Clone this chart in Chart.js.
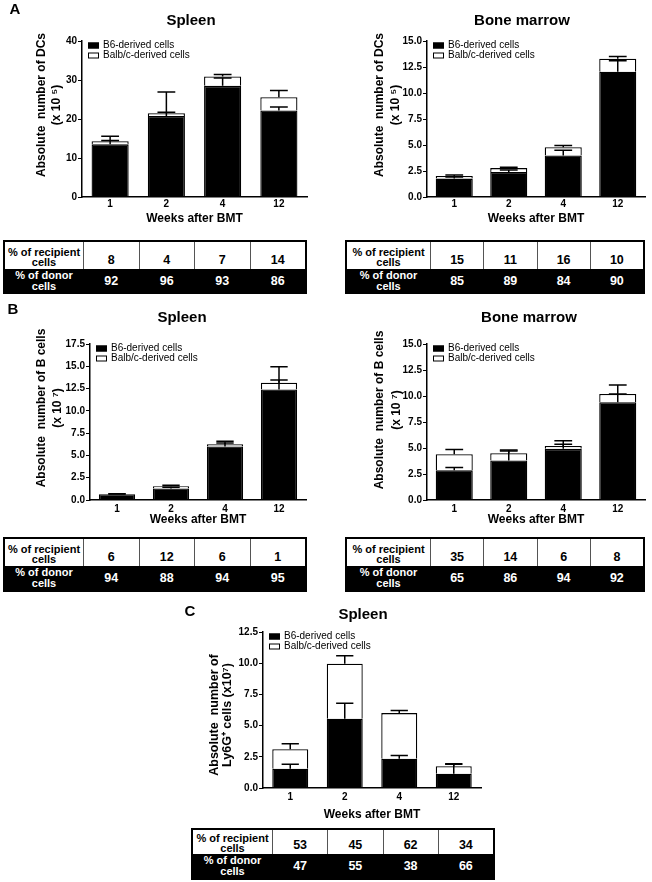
<!DOCTYPE html>
<html>
<head>
<meta charset="utf-8">
<script src="https://cdn.jsdelivr.net/npm/chart.js@4.4.1/dist/chart.umd.min.js"></script>
<style>
  body { margin: 0; background: #fff; }
  #page { position: relative; width: 652px; height: 882px; overflow: hidden; }
  canvas { position: absolute; }
  table.pct {
    position: absolute; border-spacing: 0; table-layout: fixed;
    border: 2px solid #000; font-family: "Liberation Sans", Arial, sans-serif;
    font-weight: bold; color: #000;
  }
  table.pct td { padding: 0; text-align: center; border-left: 1px solid #555; }
  table.pct td:first-child { border-left: none; font-size: 11px; line-height: 10px; vertical-align: middle; }
  table.pct tr.rec td { background: #fff; vertical-align: bottom; padding-bottom: 2px; font-size: 12.5px; }
  table.pct tr.rec td:first-child { padding-bottom: 0; vertical-align: middle; padding-top: 2px; font-size: 11px; }
  table.pct tr.don td { background: #000; color: #fff; border-left-color: #000; vertical-align: middle; font-size: 12.5px; }
  table.pct tr.don td:first-child { line-height: 11px; font-size: 11px; }
</style>
</head>
<body>
<div id="page">
  <canvas id="dcSpleen"></canvas>
  <canvas id="dcMarrow"></canvas>
  <canvas id="bSpleen"></canvas>
  <canvas id="bMarrow"></canvas>
  <canvas id="ly6gSpleen"></canvas>
</div>
<script>
// weeks after BMT
const weeks = ['1', '2', '4', '12'];

// A - DCs, spleen (x10^5)
const dcSpleenB6 = [13.5, 20.8, 28.5, 22.2];
const dcSpleenBalb = [0.8, 0.7, 2.4, 3.4];
const dcSpleenB6Err = [1.0, 0.9, 2.0, 0.9];
const dcSpleenTotalErr = [1.3, 5.4, 0.5, 1.7];
const dcSpleenTicks = [0, 10, 20, 30, 40];

// A - DCs, bone marrow (x10^5)
const dcMarrowB6 = [1.77, 2.4, 4.0, 12.05];
const dcMarrowBalb = [0.26, 0.38, 0.78, 1.25];
const dcMarrowB6Err = [0.15, 0.2, 0.5, 1.05];
const dcMarrowTotalErr = [0.08, 0.07, 0.17, 0.2];
const dcMarrowTicks = [0, 2.5, 5, 7.5, 10, 12.5, 15];

// B - B cells, spleen (x10^7)
const bSpleenB6 = [0.65, 1.3, 6.0, 12.4];
const bSpleenBalb = [0.03, 0.25, 0.25, 0.75];
const bSpleenB6Err = [0.03, 0.12, 0.4, 1.05];
const bSpleenTotalErr = [0.03, 0.1, 0.35, 1.8];
const bSpleenTicks = [0, 2.5, 5, 7.5, 10, 12.5, 15, 17.5];

// B - B cells, bone marrow (x10^7)
const bMarrowB6 = [2.85, 3.8, 4.92, 9.4];
const bMarrowBalb = [1.55, 0.7, 0.28, 0.8];
const bMarrowB6Err = [0.28, 0.9, 0.45, 0.8];
const bMarrowTotalErr = [0.45, 0.3, 0.5, 0.85];
const bMarrowTicks = [0, 2.5, 5, 7.5, 10, 12.5, 15];

// C - Ly6G+ cells, spleen (x10^7)
const lySpleenB6 = [1.55, 5.55, 2.35, 1.15];
const lySpleenBalb = [1.55, 4.4, 3.65, 0.6];
const lySpleenB6Err = [0.35, 1.25, 0.25, 0.75];
const lySpleenTotalErr = [0.45, 0.65, 0.2, 0.2];
const lySpleenTicks = [0, 2.5, 5, 7.5, 10, 12.5];

// tables: % of recipient / donor cells
const dcSpleenRecipient = [8, 4, 7, 14];
const dcSpleenDonor = [92, 96, 93, 86];
const dcMarrowRecipient = [15, 11, 16, 10];
const dcMarrowDonor = [85, 89, 84, 90];
const bSpleenRecipient = [6, 12, 6, 1];
const bSpleenDonor = [94, 88, 94, 95];
const bMarrowRecipient = [35, 14, 6, 8];
const bMarrowDonor = [65, 86, 94, 92];
const lySpleenRecipient = [53, 45, 62, 34];
const lySpleenDonor = [47, 55, 38, 66];

const FONT = '"Liberation Sans", Arial, sans-serif';
Chart.defaults.font.family = FONT;
Chart.defaults.color = '#000';

const errorBars = {
  id: 'errorBars',
  afterDatasetsDraw(chart) {
    const { ctx } = chart;
    const y = chart.scales.y;
    ctx.save();
    ctx.strokeStyle = '#000';
    ctx.lineWidth = 1.5;
    chart.data.datasets.forEach((ds, di) => {
      const meta = chart.getDatasetMeta(di);
      meta.data.forEach((bar, i) => {
        let top = 0;
        for (let k = 0; k <= di; k++) top += chart.data.datasets[k].data[i];
        const y0 = y.getPixelForValue(top);
        const y1 = y.getPixelForValue(top + ds.errors[i]);
        const half = bar.width * 0.24;
        ctx.beginPath();
        ctx.moveTo(bar.x, y0);
        ctx.lineTo(bar.x, y1);
        ctx.moveTo(bar.x - half, y1);
        ctx.lineTo(bar.x + half, y1);
        ctx.stroke();
      });
    });
    ctx.restore();
  }
};

const insideLegend = {
  id: 'insideLegend',
  afterDraw(chart) {
    const { ctx, chartArea } = chart;
    ctx.save();
    ctx.font = '10px ' + FONT;
    ctx.textAlign = 'left';
    ctx.textBaseline = 'middle';
    chart.data.datasets.forEach((ds, i) => {
      const x = chartArea.left + 6, yy = chartArea.top + 1.5 + i * 10;
      ctx.fillStyle = ds.backgroundColor;
      ctx.fillRect(x, yy, 11, 6);
      ctx.strokeStyle = '#000';
      ctx.lineWidth = 1;
      ctx.strokeRect(x + 0.5, yy + 0.5, 10, 5);
      ctx.fillStyle = '#000';
      ctx.fillText(ds.label, x + 15, yy + 3);
    });
    ctx.restore();
  }
};

const panelText = {
  id: 'panelText',
  afterDraw(chart, args, o) {
    const { ctx } = chart;
    ctx.save();
    ctx.fillStyle = '#000';
    ctx.textAlign = 'center';
    ctx.textBaseline = 'middle';
    if (o.letter) {
      ctx.font = 'bold 15px ' + FONT;
      ctx.fillText(o.letter, o.letterX, o.letterY);
    }
    ctx.font = 'bold 15px ' + FONT;
    ctx.fillText(o.title, o.titleX, o.titleY);
    ctx.font = 'bold ' + o.ySize + 'px ' + FONT;
    o.yLines.forEach((t, k) => {
      ctx.save();
      ctx.translate(o.yX[k], o.yY);
      ctx.rotate(-Math.PI / 2);
      ctx.fillText(t, 0, 0);
      ctx.restore();
    });
    ctx.restore();
  }
};

function makeChart(id, box, series, ticks, decimals, text) {
  const cv = document.getElementById(id);
  cv.width = box.w; cv.height = box.h;
  cv.style.left = box.left + 'px'; cv.style.top = box.top + 'px';
  const xh = box.titleOff + 7.2;
  new Chart(cv, {
    type: 'bar',
    data: {
      labels: weeks,
      datasets: [
        { label: 'B6-derived cells', data: series.b6, errors: series.b6Err,
          backgroundColor: '#000', borderColor: '#000', borderWidth: 1.3 },
        { label: 'Balb/c-derived cells', data: series.balb, errors: series.totalErr,
          backgroundColor: '#fff', borderColor: '#000', borderWidth: 1.3 }
      ]
    },
    options: {
      responsive: false,
      animation: false,
      events: [],
      layout: { padding: { left: 0, top: box.plot.t, right: box.w - box.plot.r, bottom: box.h - box.plot.b - xh } },
      datasets: { bar: { categoryPercentage: 1, barPercentage: box.barPct } },
      scales: {
        x: {
          stacked: true,
          grid: { display: false, drawTicks: false },
          border: { display: true, color: '#000', width: 1.5 },
          ticks: { font: { size: 10, weight: 'bold' }, padding: box.tickPad, color: '#000' },
          title: { display: true, text: 'Weeks after BMT', font: { size: 12, weight: 'bold' }, padding: 0, color: '#000' },
          afterFit: s => { s.height = xh; }
        },
        y: {
          stacked: true,
          min: 0,
          max: ticks[ticks.length - 1],
          afterBuildTicks: s => { s.ticks = ticks.map(v => ({ value: v })); },
          grid: { display: true, drawOnChartArea: false, drawTicks: true, tickLength: 4, color: '#000', lineWidth: 1 },
          border: { display: true, color: '#000', width: 1.5 },
          ticks: { font: { size: 10, weight: 'bold' }, padding: 1, color: '#000',
                   callback: v => Number(v).toFixed(decimals) },
          afterFit: s => { s.width = box.plot.l; }
        }
      },
      plugins: {
        legend: { display: false },
        tooltip: { enabled: false },
        panelText: text
      }
    },
    plugins: [errorBars, insideLegend, panelText]
  });
}

function buildTable(box, recipient, donor) {
  const t = document.createElement('table');
  t.className = 'pct';
  t.style.left = box.left + 'px';
  t.style.top = box.top + 'px';
  t.style.width = box.w + 'px';
  let html = '<colgroup><col style="width:' + box.c1 + 'px">' + recipient.map(() => '<col>').join('') + '</colgroup>';
  html += '<tr class="rec" style="height:' + box.r1 + 'px"><td>% of recipient<br>cells</td>' +
    recipient.map(v => '<td>' + v + '</td>').join('') + '</tr>';
  html += '<tr class="don" style="height:' + box.r2 + 'px"><td>% of donor<br>cells</td>' +
    donor.map(v => '<td>' + v + '</td>').join('') + '</tr>';
  t.innerHTML = html;
  document.getElementById('page').appendChild(t);
}

makeChart('dcSpleen',
  { left: 0, top: 0, w: 330, h: 230, plot: { l: 82, t: 41, r: 307, b: 197 }, tickPad: 1, titleOff: 22, barPct: 0.66 },
  { b6: dcSpleenB6, balb: dcSpleenBalb, b6Err: dcSpleenB6Err, totalErr: dcSpleenTotalErr },
  dcSpleenTicks, 0,
  { letter: 'A', letterX: 15, letterY: 10, title: 'Spleen', titleX: 191, titleY: 21,
    ySize: 12, yLines: ['Absolute  number of DCs', '(x 10 \u2075)'], yX: [42, 57], yY: 105 });

makeChart('dcMarrow',
  { left: 330, top: 0, w: 322, h: 230, plot: { l: 97, t: 41, r: 315, b: 197 }, tickPad: 1, titleOff: 22, barPct: 0.68 },
  { b6: dcMarrowB6, balb: dcMarrowBalb, b6Err: dcMarrowB6Err, totalErr: dcMarrowTotalErr },
  dcMarrowTicks, 1,
  { title: 'Bone marrow', titleX: 192, titleY: 21,
    ySize: 12, yLines: ['Absolute  number of DCs', '(x 10 \u2075)'], yX: [50, 66], yY: 105 });

makeChart('bSpleen',
  { left: 0, top: 300, w: 330, h: 230, plot: { l: 90, t: 44, r: 306, b: 200 }, tickPad: 3, titleOff: 20, barPct: 0.67 },
  { b6: bSpleenB6, balb: bSpleenBalb, b6Err: bSpleenB6Err, totalErr: bSpleenTotalErr },
  bSpleenTicks, 1,
  { letter: 'B', letterX: 13, letterY: 10, title: 'Spleen', titleX: 182, titleY: 18,
    ySize: 12, yLines: ['Absolute  number of B cells', '(x 10 \u2077)'], yX: [42, 58], yY: 108 });

makeChart('bMarrow',
  { left: 330, top: 300, w: 322, h: 230, plot: { l: 97, t: 44, r: 315, b: 200 }, tickPad: 3, titleOff: 20, barPct: 0.68 },
  { b6: bMarrowB6, balb: bMarrowBalb, b6Err: bMarrowB6Err, totalErr: bMarrowTotalErr },
  bMarrowTicks, 1,
  { title: 'Bone marrow', titleX: 199, titleY: 18,
    ySize: 12, yLines: ['Absolute  number of B cells', '(x 10 \u2077)'], yX: [50, 67], yY: 110 });

makeChart('ly6gSpleen',
  { left: 150, top: 600, w: 350, h: 226, plot: { l: 113, t: 32, r: 331, b: 188 }, tickPad: 3, titleOff: 27, barPct: 0.66 },
  { b6: lySpleenB6, balb: lySpleenBalb, b6Err: lySpleenB6Err, totalErr: lySpleenTotalErr },
  lySpleenTicks, 1,
  { letter: 'C', letterX: 40, letterY: 12, title: 'Spleen', titleX: 213, titleY: 15,
    ySize: 12.5, yLines: ['Absolute  number of', 'Ly6G\u207A cells (x10\u2077)'], yX: [65, 78], yY: 115 });

buildTable({ left: 3, top: 240, w: 304, c1: 78, r1: 27, r2: 23 }, dcSpleenRecipient, dcSpleenDonor);
buildTable({ left: 345, top: 240, w: 300, c1: 83, r1: 27, r2: 23 }, dcMarrowRecipient, dcMarrowDonor);
buildTable({ left: 3, top: 537, w: 304, c1: 78, r1: 27, r2: 24 }, bSpleenRecipient, bSpleenDonor);
buildTable({ left: 345, top: 537, w: 300, c1: 83, r1: 27, r2: 24 }, bMarrowRecipient, bMarrowDonor);
buildTable({ left: 191, top: 828, w: 304, c1: 79, r1: 24, r2: 24 }, lySpleenRecipient, lySpleenDonor);
</script>
</body>
</html>
